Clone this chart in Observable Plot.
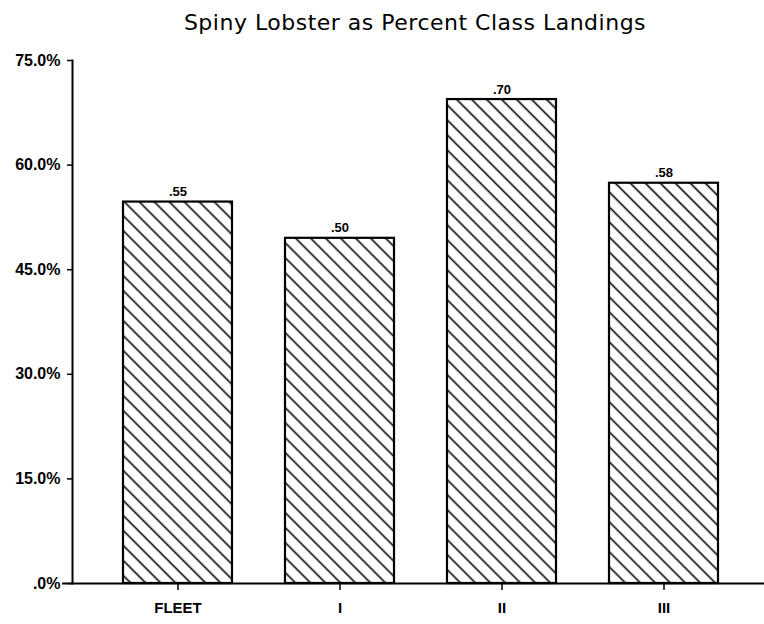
<!DOCTYPE html>
<html><head><meta charset="utf-8">
<script src="https://cdn.jsdelivr.net/npm/d3@7"></script>
<script src="https://cdn.jsdelivr.net/npm/@observablehq/plot@0.6"></script>
<style>
body{margin:0;background:#fff;}
#title{font-family:"DejaVu Sans",sans-serif;font-size:22px;height:40px;line-height:46px;width:698px;padding-left:66px;text-align:center;color:#000;letter-spacing:0.5px;white-space:nowrap;}
#chart svg{display:block;}
</style></head><body>
<div id="title">Spiny Lobster as Percent Class Landings</div>
<div id="chart"></div>
<script>
const categories = ["FLEET", "I", "II", "III"];
const values = [54.7, 49.5, 69.4, 57.4];
const valueLabels = [".55", ".50", ".70", ".58"];
const yTicks = [0, 15, 30, 45, 60, 75];
const yTickLabels = [".0%", "15.0%", "30.0%", "45.0%", "60.0%", "75.0%"];

const data = categories.map((c, i) => ({cat: c, value: values[i], label: valueLabels[i]}));

const hatch = () => {
  const ns = "http://www.w3.org/2000/svg";
  const defs = document.createElementNS(ns, "defs");
  const p = document.createElementNS(ns, "pattern");
  p.setAttribute("id", "hatch");
  p.setAttribute("patternUnits", "userSpaceOnUse");
  p.setAttribute("width", "10");
  p.setAttribute("height", "10.6");
  p.setAttribute("patternTransform", "rotate(45)");
  const bg = document.createElementNS(ns, "rect");
  bg.setAttribute("width", "10"); bg.setAttribute("height", "10.6"); bg.setAttribute("fill", "white");
  const l = document.createElementNS(ns, "line");
  l.setAttribute("x1", "-1"); l.setAttribute("x2", "11");
  l.setAttribute("y1", "5.3"); l.setAttribute("y2", "5.3");
  l.setAttribute("stroke", "black"); l.setAttribute("stroke-width", "1.6");
  p.appendChild(bg); p.appendChild(l);
  defs.appendChild(p);
  return defs;
};

const chart = Plot.plot({
  width: 764,
  height: 584,
  marginTop: 20,
  marginBottom: 41,
  marginLeft: 72,
  marginRight: 0,
  style: {background: "white", color: "black"},
  x: {domain: categories, range: [95.8, 745.2], paddingInner: 0.33, paddingOuter: 0.165, label: null},
  y: {domain: [0, 75], label: null},
  marks: [
    hatch,
    Plot.barY(data, {x: "cat", y: "value", fill: "url(#hatch)", stroke: "black", strokeWidth: 2.2}),
    Plot.text(data, {x: "cat", y: "value", text: "label", dy: -10, fontSize: 13, fontWeight: "bold", fontFamily: "Liberation Sans"}),
    Plot.frame({anchor: "left", strokeWidth: 2}),
    Plot.ruleY([0], {strokeWidth: 2, insetLeft: -10}),
    Plot.axisY(yTicks, {tickSize: 5, tickPadding: 7, strokeWidth: 1.5, tickFormat: d => yTickLabels[yTicks.indexOf(d)], fontSize: 16, fontWeight: "bold", fontFamily: "Liberation Sans", label: null}),
    Plot.axisX({tickSize: 7, tickPadding: 12, strokeWidth: 1.5, fontSize: 15, fontWeight: "bold", fontFamily: "Liberation Sans", label: null})
  ]
});
document.getElementById("chart").appendChild(chart);
</script>
</body></html>
